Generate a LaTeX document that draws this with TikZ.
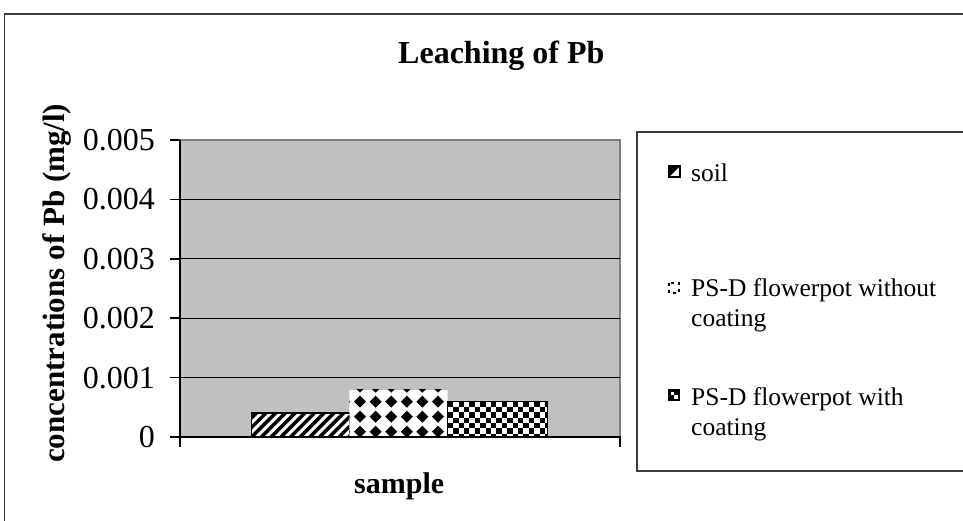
\documentclass[tikz,border=0pt]{standalone}
\usepackage{fontspec}
\setmainfont{Liberation Serif}

\definecolor{plotgray}{RGB}{192,192,192}
\definecolor{edgegray}{RGB}{128,128,128}
\definecolor{framegray}{RGB}{60,60,60}

\tikzset{
  ticklabel/.style={anchor=east, inner sep=0pt, font=\fontsize{32}{38}\selectfont},
  legendtext/.style={anchor=base west, inner sep=0pt, align=left, font=\fontsize{25.5}{30}\selectfont},
  charttitle/.style={anchor=base west, inner sep=0pt, font=\bfseries\fontsize{32}{38}\selectfont},
}

\begin{document}
\begin{tikzpicture}[x=1pt, y=-1pt]
    \useasboundingbox (0,0) rectangle (963,521);
    \clip (0,0) rectangle (963,521);

    % frames
    \draw[framegray, line width=1.5pt] (4.5,14) rectangle (980,540);
    \draw[framegray, line width=1.5pt] (637,132) rectangle (980,471);

    % plot area and grid
    \fill[plotgray] (180,140) rectangle (620,437);
    \draw[edgegray, line width=2pt] (180,140) -- (620,140) -- (620,437);
    \foreach \v in {1,...,4}
        \draw[line width=1pt] (180,437-59.4*\v) -- (620,437-59.4*\v);

    % soil bar
    \begin{scope}
        \clip (251.7,413.2) rectangle (349.3,437);
        \fill[white] (251.7,413.2) rectangle (349.3,437);
        \foreach \i in {-3,...,10}
            \draw[line width=3.5pt] (251.7+9.7*\i,437) -- ++(24,-24);
    \end{scope}
    \draw[line width=1.5pt] (251.7,413.2) rectangle (349.3,437);

    % flowerpot without coating
    \begin{scope}
        \clip (349.3,389.5) rectangle (447.7,437);
        \fill[white] (349.3,389.5) rectangle (447.7,437);
        \foreach \i in {-1,...,6}
            \foreach \j in {-1,...,2}
                \fill (360+15.6*\i,401.7+15*\j) +(-6,0) -- +(0,-6) -- +(6,0) -- +(0,6) -- cycle;
    \end{scope}

    % flowerpot with coating
    \begin{scope}
        \clip (447.7,401.4) rectangle (547.3,437);
        \fill[white] (447.7,401.4) rectangle (547.3,437);
        \foreach \j in {0,...,6}
            \foreach \i in {0,2,...,18}
                \fill ({447.7+5.4*\i+5.4*mod(\j,2)},{401.4+5.4*\j}) rectangle ++(5.4,5.4);
    \end{scope}
    \draw[line width=1.5pt] (447.7,401.4) rectangle (547.3,437);

    % axes and ticks
    \draw[line width=1.5pt] (180,140) -- (180,447);
    \draw[line width=1.5pt] (180,437) -- (620,437) -- (620,447);
    \foreach \v in {0,...,5}
        \draw[line width=1.5pt] (170,437-59.4*\v) -- (180,437-59.4*\v);

    % tick labels
    \foreach \v/\t in {0/0, 1/0.001, 2/0.002, 3/0.003, 4/0.004, 5/0.005}
        \node[ticklabel] (tick\v) at (155,437-59.4*\v) {\t};

    % titles
    \node[charttitle] (title) at (398,63.3) {Leaching of Pb};
    \node[charttitle, rotate=90, font=\bfseries\fontsize{31}{37}\selectfont] (ytitle) at (64,463) {concentrations of Pb (mg/l)};
    \node[charttitle, font=\bfseries\fontsize{30}{36}\selectfont] (xtitle) at (354,493.3) {sample};

    % legend keys
    \begin{scope}
        \clip (669,166) rectangle (680,177);
        \fill[white] (669,166) rectangle (680,177);
        \fill (669,166) -- (680,166) -- (669,177) -- cycle;
    \end{scope}
    \draw[line width=1.2pt] (669,166) rectangle (680,177);
    \draw[line width=2pt, dash pattern=on 3pt off 4pt] (669,283) rectangle (679,293);
    \fill (668,389) rectangle (680,401);
    \fill[white] (670.5,391.5) rectangle (674,395);
    \fill[white] (674,395) rectangle (677.5,398.5);

    % legend texts
    \node[legendtext] (leg1) at (691,182) {soil};
    \node[legendtext] (leg2) at (691,326.7) {PS-D flowerpot without\\coating};
    \node[legendtext] (leg3) at (691,435) {PS-D flowerpot with\\coating};
\end{tikzpicture}
\end{document}
